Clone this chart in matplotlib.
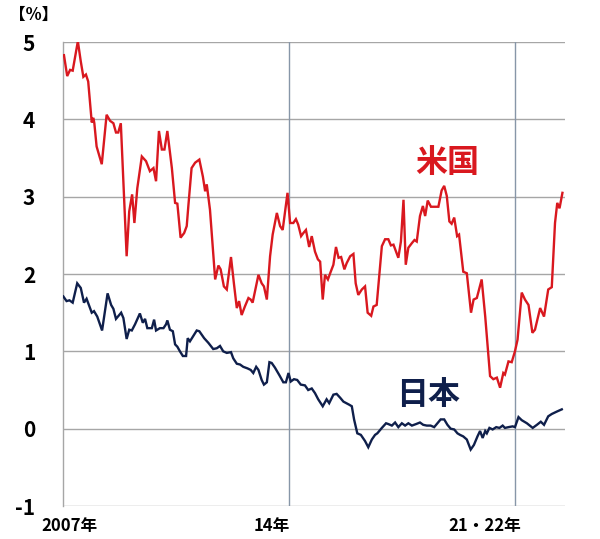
import matplotlib
matplotlib.use("Agg")
import matplotlib.pyplot as plt

plt.rcParams['font.family'] = ['Noto Sans CJK JP', 'DejaVu Sans']

# US 10-year yield (%), decimal year vs value
us_t = [2007.03, 2007.13, 2007.22, 2007.30, 2007.46, 2007.55, 2007.63, 2007.71, 2007.78, 2007.89,
        2007.94, 2007.97, 2008.04, 2008.20, 2008.35, 2008.46, 2008.56, 2008.64, 2008.71, 2008.79,
        2008.97, 2009.05, 2009.14, 2009.21, 2009.30, 2009.44, 2009.57, 2009.69, 2009.80, 2009.88,
        2009.97, 2010.06, 2010.14, 2010.23, 2010.37, 2010.47, 2010.54, 2010.64, 2010.75, 2010.83,
        2010.88, 2010.98, 2011.09, 2011.22, 2011.33, 2011.40, 2011.45, 2011.55, 2011.71, 2011.81,
        2011.88, 2011.98, 2012.07, 2012.20, 2012.29, 2012.38, 2012.45, 2012.53, 2012.63, 2012.74,
        2012.81, 2012.87, 2013.05, 2013.15, 2013.22, 2013.31, 2013.41, 2013.49, 2013.62, 2013.72,
        2013.80, 2013.95, 2014.03, 2014.13, 2014.21, 2014.28, 2014.37, 2014.44, 2014.52, 2014.62,
        2014.70, 2014.80, 2014.89, 2014.96, 2015.04, 2015.11, 2015.20, 2015.27, 2015.37, 2015.45,
        2015.53, 2015.61, 2015.71, 2015.78, 2015.89, 2015.99, 2016.06, 2016.14, 2016.25, 2016.35,
        2016.43, 2016.54, 2016.61, 2016.71, 2016.87, 2016.97, 2017.07, 2017.15, 2017.23, 2017.38,
        2017.46, 2017.54, 2017.61, 2017.69, 2017.80, 2017.88, 2017.95, 2018.05, 2018.14, 2018.21,
        2018.29, 2018.39, 2018.52, 2018.62, 2018.72, 2018.80, 2018.88, 2018.96, 2019.03, 2019.11,
        2019.20, 2019.26, 2019.39, 2019.50, 2019.63, 2019.71, 2019.81, 2019.96, 2020.07, 2020.22,
        2020.32, 2020.43, 2020.53, 2020.63, 2020.68, 2020.79, 2020.89, 2020.99, 2021.07, 2021.20,
        2021.30, 2021.41, 2021.53, 2021.61, 2021.77, 2021.89, 2022.02, 2022.13, 2022.23, 2022.30,
        2022.37, 2022.46]
us_v = [4.83, 4.56, 4.64, 4.63, 5.01, 4.75, 4.55, 4.58, 4.49, 3.96,
        4.02, 3.95, 3.65, 3.42, 4.06, 3.98, 3.95, 3.83, 3.83, 3.95,
        2.23, 2.81, 3.03, 2.66, 3.11, 3.52, 3.46, 3.33, 3.37, 3.20,
        3.85, 3.61, 3.61, 3.85, 3.37, 2.92, 2.91, 2.47, 2.53, 2.62,
        2.88, 3.37, 3.44, 3.48, 3.26, 3.07, 3.16, 2.83, 1.93, 2.11,
        2.06, 1.84, 1.80, 2.22, 1.88, 1.56, 1.65, 1.47, 1.58, 1.69,
        1.67, 1.63, 1.99, 1.88, 1.84, 1.67, 2.23, 2.51, 2.79, 2.62,
        2.57, 3.05, 2.66, 2.66, 2.71, 2.64, 2.49, 2.53, 2.57, 2.35,
        2.49, 2.29, 2.19, 2.16, 1.67, 1.99, 1.93, 2.01, 2.12, 2.35,
        2.21, 2.22, 2.06, 2.14, 2.23, 2.26, 1.88, 1.73, 1.80, 1.84,
        1.50, 1.46, 1.58, 1.60, 2.36, 2.45, 2.45, 2.37, 2.38, 2.21,
        2.42, 2.96, 2.12, 2.34, 2.40, 2.44, 2.42, 2.75, 2.88, 2.75,
        2.95, 2.87, 2.87, 2.87, 3.08, 3.14, 3.01, 2.68, 2.65, 2.73,
        2.49, 2.51, 2.03, 2.01, 1.50, 1.67, 1.69, 1.93, 1.45, 0.68,
        0.64, 0.66, 0.53, 0.72, 0.70, 0.87, 0.86, 1.00, 1.15, 1.76,
        1.67, 1.60, 1.24, 1.28, 1.56, 1.45, 1.80, 1.83, 2.66, 2.92,
        2.85, 3.05]

# Japan 10-year yield (%)
jp_t = [2007.01, 2007.11, 2007.20, 2007.30, 2007.44, 2007.55, 2007.65, 2007.73, 2007.89, 2007.96,
        2008.06, 2008.21, 2008.38, 2008.49, 2008.56, 2008.64, 2008.80, 2008.87, 2008.97, 2009.05,
        2009.13, 2009.23, 2009.38, 2009.47, 2009.54, 2009.61, 2009.75, 2009.82, 2009.88, 2010.00,
        2010.11, 2010.19, 2010.23, 2010.31, 2010.40, 2010.47, 2010.54, 2010.62, 2010.71, 2010.81,
        2010.86, 2010.93, 2011.02, 2011.14, 2011.22, 2011.37, 2011.50, 2011.65, 2011.76, 2011.86,
        2011.96, 2012.07, 2012.20, 2012.27, 2012.38, 2012.48, 2012.58, 2012.71, 2012.81, 2012.89,
        2012.98, 2013.05, 2013.15, 2013.22, 2013.31, 2013.39, 2013.46, 2013.56, 2013.70, 2013.82,
        2013.90, 2013.98, 2014.05, 2014.15, 2014.25, 2014.36, 2014.49, 2014.59, 2014.70, 2014.80,
        2014.90, 2015.04, 2015.16, 2015.24, 2015.37, 2015.47, 2015.58, 2015.68, 2015.86, 2015.94,
        2016.01, 2016.11, 2016.22, 2016.35, 2016.45, 2016.56, 2016.66, 2016.73, 2016.87, 2017.00,
        2017.07, 2017.18, 2017.28, 2017.38, 2017.49, 2017.59, 2017.69, 2017.80, 2017.93, 2018.05,
        2018.15, 2018.26, 2018.38, 2018.49, 2018.59, 2018.69, 2018.80, 2018.90, 2019.00, 2019.11,
        2019.21, 2019.29, 2019.39, 2019.50, 2019.62, 2019.72, 2019.83, 2019.91, 2019.99, 2020.07,
        2020.12, 2020.20, 2020.30, 2020.41, 2020.51, 2020.61, 2020.68, 2020.79, 2020.92, 2020.99,
        2021.10, 2021.20, 2021.36, 2021.54, 2021.67, 2021.79, 2021.89, 2022.02, 2022.13, 2022.28,
        2022.44]
jp_v = [1.71, 1.65, 1.66, 1.63, 1.88, 1.82, 1.63, 1.68, 1.50, 1.52,
        1.45, 1.27, 1.75, 1.60, 1.55, 1.42, 1.50, 1.43, 1.16, 1.28,
        1.27, 1.35, 1.49, 1.37, 1.42, 1.30, 1.30, 1.41, 1.27, 1.30,
        1.30, 1.35, 1.40, 1.28, 1.26, 1.09, 1.06, 1.00, 0.94, 0.94,
        1.17, 1.13, 1.19, 1.27, 1.26, 1.17, 1.11, 1.03, 1.04, 1.07,
        1.00, 0.98, 0.99, 0.91, 0.84, 0.83, 0.80, 0.78, 0.76, 0.72,
        0.80, 0.76, 0.63, 0.57, 0.60, 0.86, 0.85, 0.79, 0.69, 0.60,
        0.60, 0.72, 0.61, 0.64, 0.63, 0.57, 0.56, 0.50, 0.52, 0.46,
        0.38, 0.29, 0.38, 0.33, 0.44, 0.45, 0.40, 0.35, 0.31, 0.29,
        0.12, -0.06, -0.08, -0.16, -0.24, -0.14, -0.08, -0.06, 0.01, 0.07,
        0.06, 0.04, 0.08, 0.02, 0.07, 0.04, 0.07, 0.04, 0.06, 0.08,
        0.05, 0.04, 0.04, 0.02, 0.07, 0.12, 0.12, 0.05, 0.00, -0.01,
        -0.06, -0.08, -0.10, -0.14, -0.27, -0.21, -0.10, -0.03, -0.12, -0.03,
        -0.06, 0.01, -0.01, 0.02, 0.01, 0.04, 0.01, 0.02, 0.03, 0.02,
        0.15, 0.11, 0.07, 0.01, 0.05, 0.09, 0.05, 0.16, 0.19, 0.22,
        0.25]

y_ticks = [-1, 0, 1, 2, 3, 4, 5]
x_lines = [2014, 2021]
x_labels = [(2007.2, "2007年"), (2013.45, "14年"), (2020.05, "21・22年")]

RED = "#d9181f"
NAVY = "#0f1f4b"

fig = plt.figure(figsize=(6.0, 5.39), dpi=100)
ax = fig.add_axes([0.105, 0.0612, 0.8367, 0.8608])
ax.set_xlim(2007.0, 2022.54)
ax.set_ylim(-1, 5)

for y in y_ticks:
    ax.axhline(y, color="#a6a6a6", lw=1.0, zorder=1)
for x in x_lines:
    ax.axvline(x, color="#8796a8", lw=1.0, zorder=1)

ax.plot(us_t, us_v, color=RED, lw=1.7, zorder=3, solid_joinstyle="miter")
ax.plot(jp_t, jp_v, color=NAVY, lw=1.7, zorder=3, solid_joinstyle="miter")

for s in ["top", "right", "bottom"]:
    ax.spines[s].set_visible(False)
ax.spines["left"].set_color("#a6a6a6")
ax.spines["left"].set_linewidth(1.0)

ax.set_yticks(y_ticks)
ax.set_yticklabels([str(v) for v in y_ticks], fontsize=15, fontweight="bold")
ax.tick_params(axis="y", length=0, pad=20)
ax.set_xticks([])

for xv, lab in x_labels:
    ax.text(xv, -1.26, lab, ha="center", va="center", fontsize=12,
            fontweight="bold", color="black")

fig.text(0.056, 0.972, "【%】", ha="center", va="center", fontsize=12, fontweight="bold")

ax.text(2018.9, 3.44, "米国", color=RED, fontsize=23, fontweight="bold",
        ha="center", va="center")
ax.text(2018.3, 0.43, "日本", color=NAVY, fontsize=23, fontweight="bold",
        ha="center", va="center")

fig.savefig("out.png", dpi=100)
